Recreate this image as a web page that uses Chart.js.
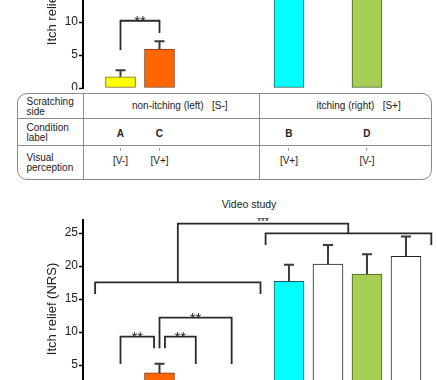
<!DOCTYPE html>
<html><head><meta charset="utf-8">
<script src="https://cdn.jsdelivr.net/npm/chart.js@4.4.1/dist/chart.umd.min.js"></script>
<style>
html,body{margin:0;padding:0;background:#fff;}
body{width:437px;height:380px;overflow:hidden;position:relative;font-family:"Liberation Sans",Arial,sans-serif;color:#222;}
canvas{position:absolute;left:0;}
.t{position:absolute;font-size:10px;line-height:10.5px;white-space:pre;}
.c{position:absolute;font-size:10px;line-height:10px;white-space:pre;text-align:center;width:40px;}
.hl{position:absolute;height:0;border-top:1px solid #8c8c8c;}
.vl{position:absolute;width:0;border-left:1px solid #8c8c8c;}
#frame{position:absolute;left:17px;top:92.5px;width:415px;height:87.5px;box-sizing:border-box;border:1.5px solid #8a8a8a;border-radius:10px;}
#title{position:absolute;left:199px;top:198.7px;width:100px;text-align:center;font-size:10.5px;line-height:11px;}
</style></head><body>
<canvas id="c1" width="437" height="182" style="top:-92px"></canvas>
<div id="frame"></div>
<div id="title"></div>
<canvas id="c2" width="437" height="182" style="top:218px"></canvas>
<script>
// ---------- data ----------
const yTickStep = 5;
// Mirror study (top panel): conditions in slot order
const mirrorConditions = ['A', 'C', 'B', 'D'];
const mirrorSlots = [0, 1, 4, 6];
const mirrorMeans = [1.7, 5.9, 16.5, 15.8];
const mirrorErrors = [1.0, 1.2, 2.2, 2.4];
const mirrorVisual = ['[V-]', '[V+]', '[V+]', '[V-]'];
const scratchingSides = ['non-itching (left)   [S-]', 'itching (right)   [S+]'];
const rowHeaders = ['Scratching\nside', 'Condition\nlabel', 'Visual\nperception'];
// Video study (bottom panel)
const videoTitle = 'Video study';
const videoSlots = [0, 1, 2, 3, 4, 5, 6, 7];
const videoMeans = [1.4, 3.8, 1.1, 1.6, 17.7, 20.3, 18.8, 21.5];
const videoErrors = [0.8, 1.4, 0.6, 0.8, 2.5, 2.9, 3.0, 3.0];
const yTitle = 'Itch relief (NRS)';
// significance brackets (x in layout units, y in NRS units)
const mirrorBrackets = [
  {x1: 0, x2: 1, top: 10.2, left: 5.76, right: 8.34, sig: '**'}
];
const videoBrackets = [
  {x1: 0, x2: 0.86, top: 9.3, left: 5.16, right: 7.54, sig: '**'},
  {x1: 1.14, x2: 1.93, top: 9.3, left: 7.54, right: 5.16, sig: '**'},
  {x1: 1.0, x2: 2.85, top: 12.18, left: 7.54, right: 5.16, sig: '**'},
  {x1: -0.65, x2: 3.59, top: 17.55, left: 15.77, right: 15.77, sig: ''},
  {x1: 1.47, x2: 5.84, top: 26.44, left: 17.55, right: 24.98, sig: '***'},
  {x1: 3.72, x2: 7.97, top: 24.98, left: 23.2, right: 23.2, sig: ''}
];

// ---------- styling ----------
const Y_MAX = 27;
const GROUP_GAP = 0.32;
const X_MIN = -0.9615, X_MAX = 8.064;
const slotX = s => s + (s >= 4 ? GROUP_GAP : 0);
const FILL = {A:'#FFFF00', C:'#FF6600', B:'#00FFFF', D:'#A6CE54', W:'#FFFFFF'};
const EDGE = {A:'#6b6b1a', C:'#7a3d1a', B:'#245c5c', D:'#4b5e22', W:'#222222'};
const mirrorKeys = mirrorConditions;
const videoKeys = ['A', 'C', 'W', 'W', 'B', 'W', 'D', 'W'];
const FONT = 'Liberation Sans';
const sigStyle = {'**': {size: 15, dy: 5.5}, '***': {size: 10, dy: 1}};

const errorBarPlugin = {
  id: 'errorBars',
  afterDatasetsDraw(chart) {
    const ctx = chart.ctx, ys = chart.scales.y;
    chart.data.datasets.forEach((ds, di) => {
      chart.getDatasetMeta(di).data.forEach((bar, i) => {
        const yt = ys.getPixelForValue(ds.data[i].y + ds.errors[i]);
        ctx.save();
        ctx.strokeStyle = '#3a3a3a'; ctx.lineWidth = 2;
        ctx.beginPath();
        ctx.moveTo(bar.x, bar.y); ctx.lineTo(bar.x, yt);
        ctx.moveTo(bar.x - 5, yt); ctx.lineTo(bar.x + 5, yt);
        ctx.stroke(); ctx.restore();
      });
    });
  }
};

const bracketPlugin = {
  id: 'brackets',
  afterDatasetsDraw(chart, args, opts) {
    const ctx = chart.ctx, xs = chart.scales.x, ys = chart.scales.y;
    (opts.items || []).forEach(b => {
      const px1 = xs.getPixelForValue(b.x1);
      const px2 = xs.getPixelForValue(b.x2);
      const yt = ys.getPixelForValue(b.top);
      const y1 = ys.getPixelForValue(b.left), y2 = ys.getPixelForValue(b.right);
      ctx.save();
      ctx.strokeStyle = '#2a2a2a'; ctx.lineWidth = 1.8; ctx.lineJoin = 'miter'; ctx.lineCap = 'butt';
      ctx.beginPath();
      ctx.moveTo(px1, y1); ctx.lineTo(px1, yt); ctx.lineTo(px2, yt); ctx.lineTo(px2, y2);
      ctx.stroke();
      if (b.sig) {
        const st = sigStyle[b.sig];
        ctx.fillStyle = '#222';
        ctx.font = st.size + 'px "' + FONT + '"';
        ctx.textAlign = 'center'; ctx.textBaseline = 'alphabetic';
        ctx.fillText(b.sig, (px1 + px2) / 2, yt + st.dy);
      }
      ctx.restore();
    });
  }
};

function makeChart(id, slots, means, errors, keys, brackets) {
  return new Chart(document.getElementById(id), {
    type: 'bar',
    data: {
      datasets: [{
        data: slots.map((s, i) => ({x: slotX(s), y: means[i]})),
        errors: errors,
        backgroundColor: keys.map(k => FILL[k]),
        borderColor: keys.map(k => EDGE[k]),
        borderWidth: 1,
        borderSkipped: false,
        barThickness: 30
      }]
    },
    options: {
      responsive: false,
      animation: false,
      events: [],
      layout: {padding: {top: 2, bottom: 2, left: 0, right: 2}},
      plugins: {legend: {display: false}, tooltip: {enabled: false}, brackets: {items: brackets}},
      scales: {
        x: {
          type: 'linear', display: false, offset: false, grid: {offset: false},
          min: X_MIN, max: X_MAX,
          afterFit(s) { s.paddingLeft = 0; s.paddingRight = 0; }
        },
        y: {
          min: 0, max: Y_MAX, position: 'left',
          afterFit(s) { s.width = 83; s.paddingTop = 0; s.paddingBottom = 0; },
          border: {display: true, color: '#000', width: 2},
          grid: {display: true, drawOnChartArea: false, drawTicks: true, tickLength: 4, tickColor: '#000', tickWidth: 1.5},
          ticks: {stepSize: yTickStep, includeBounds: false, padding: 1, color: '#222', font: {family: FONT, size: 12}},
          title: {display: true, text: yTitle, color: '#222', font: {family: FONT, size: 13}, padding: {top: 45, bottom: 0}}
        }
      }
    },
    plugins: [errorBarPlugin, bracketPlugin]
  });
}

const mirrorChart = makeChart('c1', mirrorSlots, mirrorMeans, mirrorErrors, mirrorKeys, mirrorBrackets);
const videoChart = makeChart('c2', videoSlots, videoMeans, videoErrors, videoKeys, videoBrackets);
document.getElementById('title').textContent = videoTitle;

// ---------- table under the top panel ----------
function add(cls, css, text) {
  const d = document.createElement('div');
  d.className = cls;
  Object.assign(d.style, css);
  if (text !== undefined) d.textContent = text;
  document.body.appendChild(d);
  return d;
}
add('hl', {left: '17px', top: '118px', width: '415px'});
add('hl', {left: '17px', top: '145px', width: '415px'});
add('vl', {left: '83px', top: '93px', height: '87px'});
add('vl', {left: '259px', top: '93px', height: '87px'});
const rowTops = [96.8, 122.5, 152.8];
rowHeaders.forEach((h, i) => add('t', {left: '26.5px', top: rowTops[i] + 'px'}, h));
const sideLeft = [132, 316.5];
scratchingSides.forEach((s, i) => add('t', {left: sideLeft[i] + 'px', top: '100.5px', lineHeight: '10px'}, s));
const mxs = mirrorChart.scales.x;
mirrorConditions.forEach((c, i) => {
  const px = mxs.getPixelForValue(slotX(mirrorSlots[i]));
  add('c', {left: (px - 20) + 'px', top: '129px', fontWeight: 'bold'}, c);
  add('vl', {left: (px - 0.5) + 'px', top: '147.5px', height: '3.5px', borderLeftColor: '#999'});
  add('c', {left: (px - 20) + 'px', top: '155.6px'}, mirrorVisual[i]);
});
</script>
</body></html>
